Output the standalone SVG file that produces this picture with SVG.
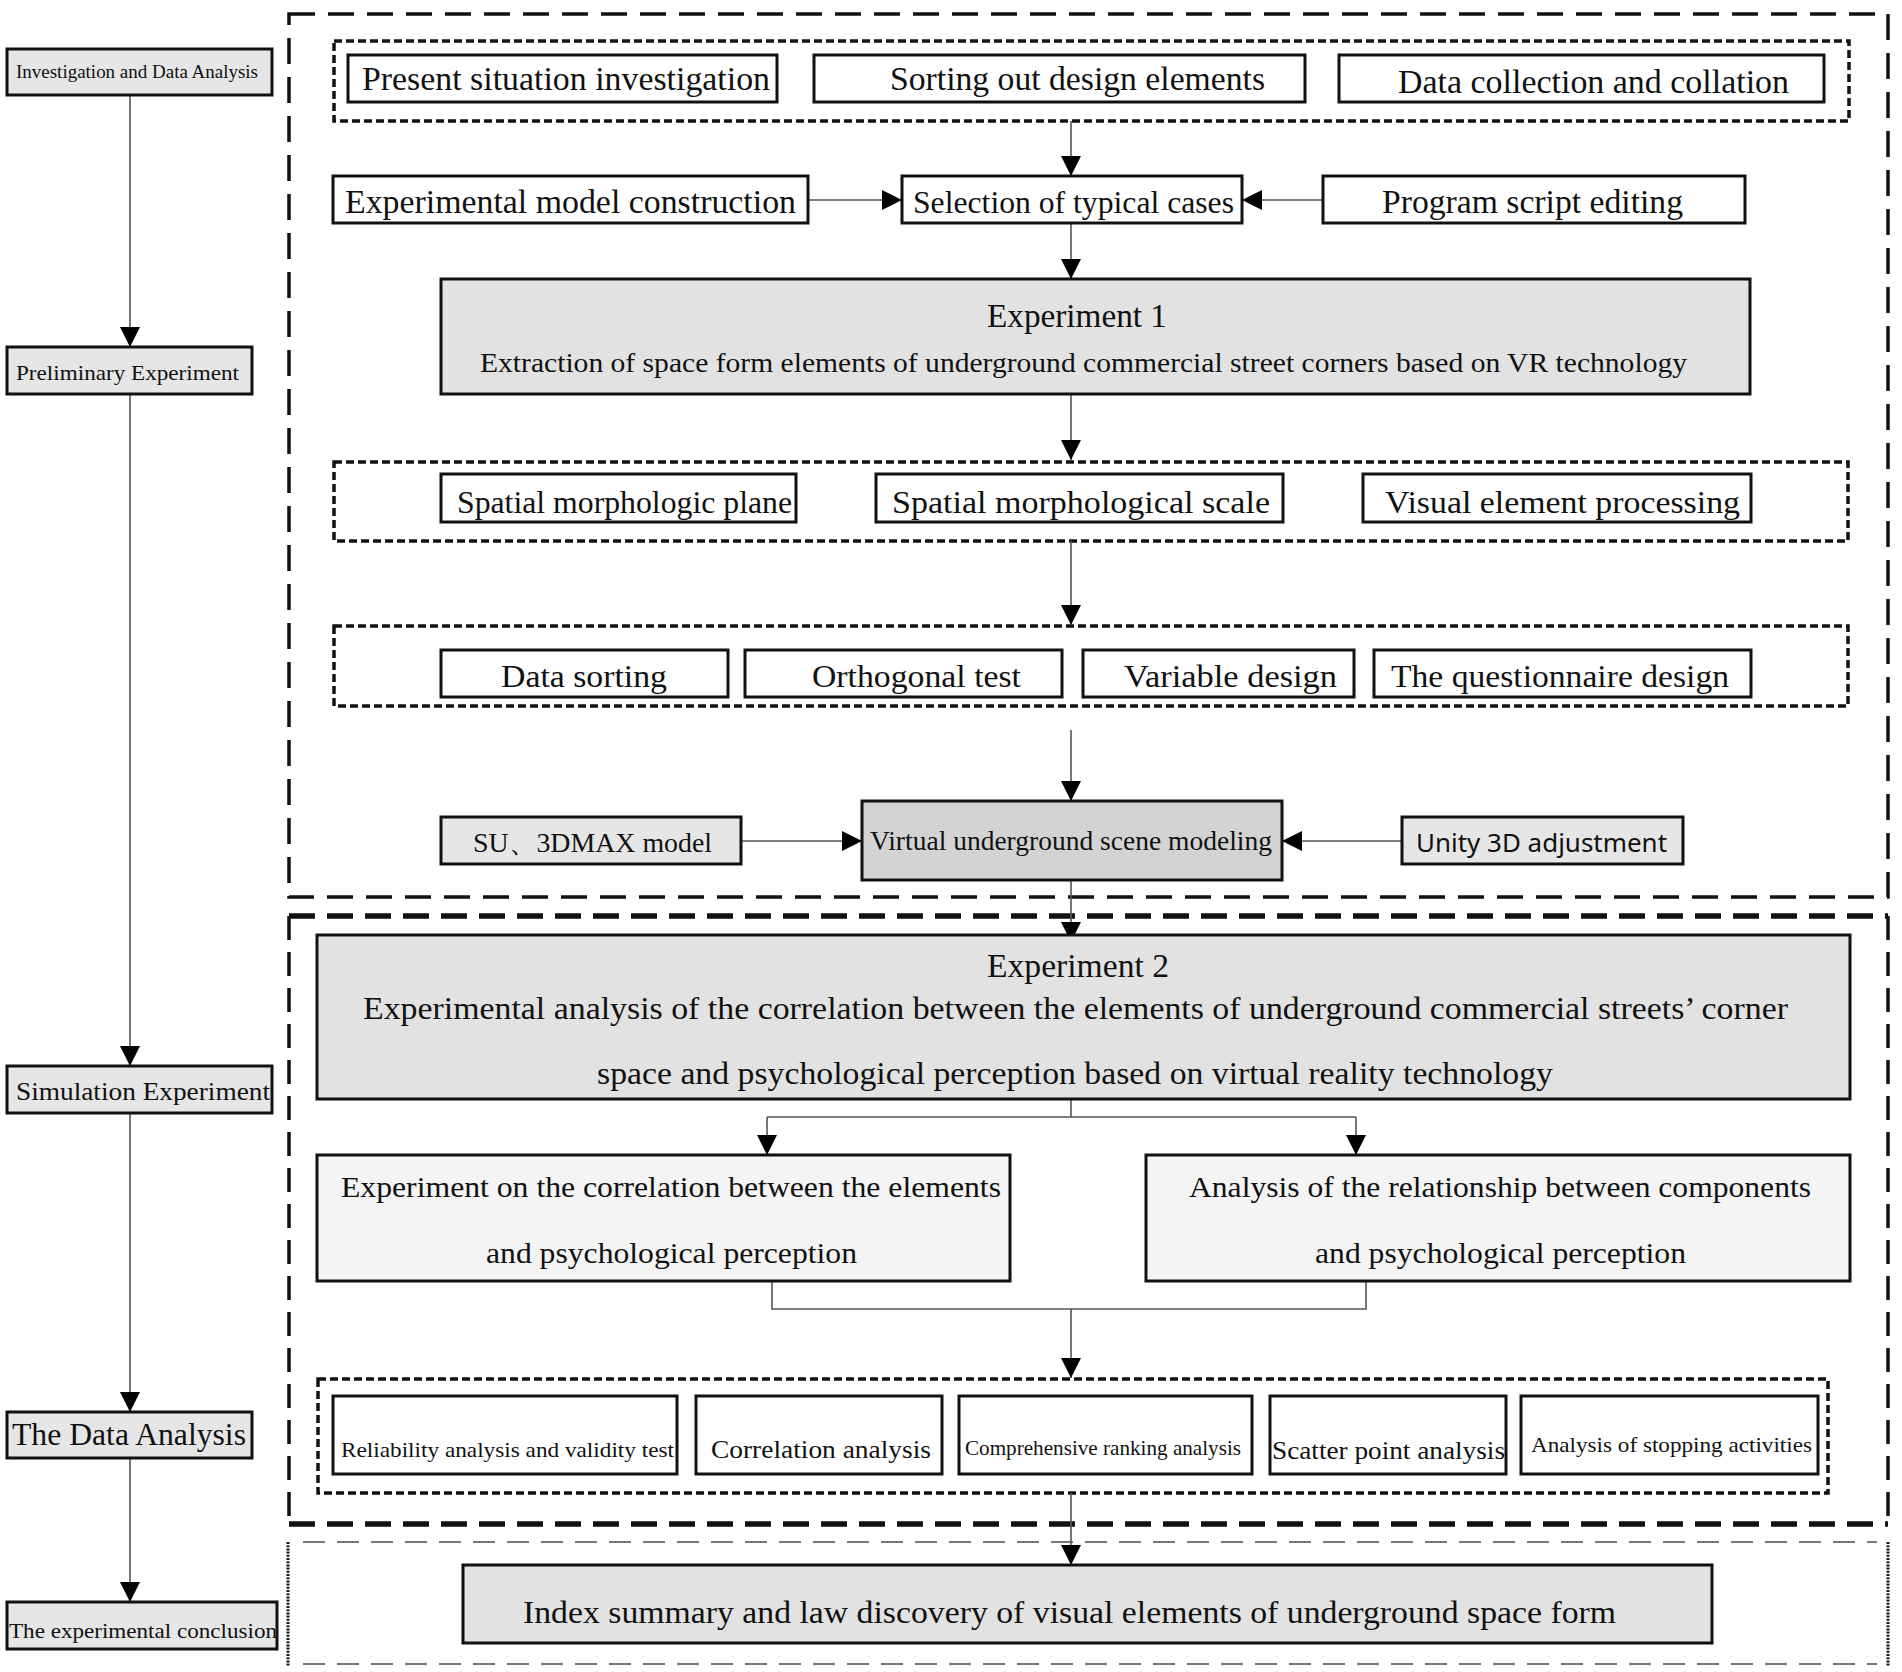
<svg xmlns="http://www.w3.org/2000/svg" width="1902" height="1672" viewBox="0 0 1902 1672">
<defs>
<style>
.box{fill:#fff;stroke:#111;stroke-width:3}
.g{fill:#e2e2e2}
.g2{fill:#d3d3d3}
.g3{fill:#f4f4f4}
.g4{fill:#e6e6e6}
.t{font-family:"Liberation Serif","Times New Roman",serif;fill:#111}
.s{font-family:"Noto Sans","Liberation Sans",sans-serif;fill:#111}
.conn{stroke:#555;stroke-width:1.6;fill:none}
.dot{fill:none;stroke:#111;stroke-width:3.5;stroke-dasharray:8 4}
</style>
<marker id="ah" markerUnits="userSpaceOnUse" markerWidth="20" markerHeight="20" refX="20" refY="10" orient="auto">
<path d="M0,0 L20,10 L0,20 z" fill="#000"/>
</marker>
</defs>
<rect width="1902" height="1672" fill="#fff"/>

<g id="frames">
<rect x="289" y="14" width="1599" height="883" fill="none" stroke="#111" stroke-width="3.5" stroke-dasharray="26 13"/>
<line x1="289" y1="916" x2="1888" y2="916" stroke="#111" stroke-width="5.5" stroke-dasharray="26 12"/>
<line x1="289" y1="1524" x2="1888" y2="1524" stroke="#111" stroke-width="5.5" stroke-dasharray="26 12"/>
<line x1="289" y1="916" x2="289" y2="1524" stroke="#111" stroke-width="3.5" stroke-dasharray="24 12"/>
<line x1="1888" y1="916" x2="1888" y2="1524" stroke="#111" stroke-width="3.5" stroke-dasharray="24 12"/>
<line x1="303" y1="1542" x2="1877" y2="1542" stroke="#777" stroke-width="2" stroke-dasharray="22 12"/>
<line x1="303" y1="1664" x2="1877" y2="1664" stroke="#777" stroke-width="2" stroke-dasharray="22 12"/>
<line x1="288" y1="1542" x2="288" y2="1666" stroke="#111" stroke-width="3" stroke-dasharray="2 1.2"/>
<line x1="1888" y1="1542" x2="1888" y2="1666" stroke="#111" stroke-width="3" stroke-dasharray="2 1.2"/>
<rect class="dot" x="334" y="41" width="1515" height="80"/>
<rect class="dot" x="334" y="462" width="1514" height="79"/>
<rect class="dot" x="334" y="626" width="1514" height="80"/>
<rect class="dot" x="318" y="1379" width="1510" height="114"/>
</g>

<g id="connectors">
<line class="conn" x1="130" y1="95" x2="130" y2="347" marker-end="url(#ah)"/>
<line class="conn" x1="130" y1="394" x2="130" y2="1066" marker-end="url(#ah)"/>
<line class="conn" x1="130" y1="1113" x2="130" y2="1412" marker-end="url(#ah)"/>
<line class="conn" x1="130" y1="1458" x2="130" y2="1602" marker-end="url(#ah)"/>
<line class="conn" x1="1071" y1="121" x2="1071" y2="176" marker-end="url(#ah)"/>
<line class="conn" x1="808" y1="200" x2="902" y2="200" marker-end="url(#ah)"/>
<line class="conn" x1="1323" y1="200" x2="1242" y2="200" marker-end="url(#ah)"/>
<line class="conn" x1="1071" y1="223" x2="1071" y2="279" marker-end="url(#ah)"/>
<line class="conn" x1="1071" y1="394" x2="1071" y2="460" marker-end="url(#ah)"/>
<line class="conn" x1="1071" y1="541" x2="1071" y2="625" marker-end="url(#ah)"/>
<line class="conn" x1="1071" y1="730" x2="1071" y2="801" marker-end="url(#ah)"/>
<line class="conn" x1="741" y1="841" x2="862" y2="841" marker-end="url(#ah)"/>
<line class="conn" x1="1401" y1="841" x2="1282" y2="841" marker-end="url(#ah)"/>
<line class="conn" x1="1071" y1="880" x2="1071" y2="942" marker-end="url(#ah)"/>
<polyline class="conn" points="1071,1099 1071,1117"/>
<polyline class="conn" points="767,1117 1356,1117"/>
<line class="conn" x1="767" y1="1117" x2="767" y2="1155" marker-end="url(#ah)"/>
<line class="conn" x1="1356" y1="1117" x2="1356" y2="1155" marker-end="url(#ah)"/>
<polyline class="conn" points="772,1281 772,1309 1366,1309 1366,1281"/>
<line class="conn" x1="1071" y1="1309" x2="1071" y2="1378" marker-end="url(#ah)"/>
<line class="conn" x1="1071" y1="1493" x2="1071" y2="1565" marker-end="url(#ah)"/>
</g>

<g id="n-investigation"><rect class="box g4" x="7" y="49" width="265" height="46"/><text class="t" x="16" y="78" font-size="19" textLength="242" lengthAdjust="spacingAndGlyphs">Investigation and Data Analysis</text></g>
<g id="n-preliminary"><rect class="box g4" x="7" y="347" width="245" height="47"/><text class="t" x="16" y="380" font-size="22" textLength="223" lengthAdjust="spacingAndGlyphs">Preliminary Experiment</text></g>
<g id="n-simulation"><rect class="box g4" x="7" y="1066" width="265" height="47"/><text class="t" x="16" y="1100" font-size="25" textLength="254" lengthAdjust="spacingAndGlyphs">Simulation Experiment</text></g>
<g id="n-dataanalysis"><rect class="box g4" x="7" y="1412" width="245" height="46"/><text class="t" x="12" y="1445" font-size="31" textLength="234" lengthAdjust="spacingAndGlyphs">The Data Analysis</text></g>
<g id="n-conclusion"><rect class="box g4" x="7" y="1602" width="270" height="47"/><text class="t" x="9" y="1638" font-size="22" textLength="268" lengthAdjust="spacingAndGlyphs">The experimental conclusion</text></g>

<g id="n-present"><rect class="box" x="348" y="55" width="429" height="47"/><text class="t" x="362" y="90" font-size="33" textLength="408" lengthAdjust="spacingAndGlyphs">Present situation investigation</text></g>
<g id="n-sorting"><rect class="box" x="814" y="55" width="491" height="47"/><text class="t" x="890" y="90" font-size="33" textLength="375" lengthAdjust="spacingAndGlyphs">Sorting out design elements</text></g>
<g id="n-datacollection"><rect class="box" x="1339" y="55" width="485" height="47"/><text class="t" x="1398" y="93" font-size="33" textLength="391" lengthAdjust="spacingAndGlyphs">Data collection and collation</text></g>

<g id="n-expmodel"><rect class="box" x="333" y="176" width="475" height="47" stroke-width="2.5"/><text class="t" x="345" y="213" font-size="33" textLength="451" lengthAdjust="spacingAndGlyphs">Experimental model construction</text></g>
<g id="n-selection"><rect class="box" x="902" y="176" width="340" height="47"/><text class="t" x="913" y="213" font-size="31" textLength="321" lengthAdjust="spacingAndGlyphs">Selection of typical cases</text></g>
<g id="n-program"><rect class="box" x="1323" y="176" width="422" height="47"/><text class="t" x="1382" y="213" font-size="33" textLength="301" lengthAdjust="spacingAndGlyphs">Program script editing</text></g>

<g id="n-exp1"><rect class="box g" x="441" y="279" width="1309" height="115"/><text class="t" x="987" y="327" font-size="33" textLength="180" lengthAdjust="spacingAndGlyphs">Experiment 1</text><text class="t" x="480" y="372" font-size="28" textLength="1207" lengthAdjust="spacingAndGlyphs">Extraction of space form elements of underground commercial street corners based on VR technology</text></g>

<g id="n-plane"><rect class="box" x="441" y="474" width="355" height="48"/><text class="t" x="457" y="513" font-size="32" textLength="335" lengthAdjust="spacingAndGlyphs">Spatial morphologic plane</text></g>
<g id="n-scale"><rect class="box" x="876" y="474" width="407" height="48"/><text class="t" x="892" y="513" font-size="32" textLength="378" lengthAdjust="spacingAndGlyphs">Spatial morphological scale</text></g>
<g id="n-visual"><rect class="box" x="1363" y="474" width="388" height="48"/><text class="t" x="1385" y="513" font-size="32" textLength="355" lengthAdjust="spacingAndGlyphs">Visual element processing</text></g>

<g id="n-datasorting"><rect class="box" x="441" y="650" width="287" height="47"/><text class="t" x="501" y="687" font-size="32" textLength="166" lengthAdjust="spacingAndGlyphs">Data sorting</text></g>
<g id="n-orthogonal"><rect class="box" x="745" y="650" width="317" height="47"/><text class="t" x="812" y="687" font-size="32" textLength="209" lengthAdjust="spacingAndGlyphs">Orthogonal test</text></g>
<g id="n-variable"><rect class="box" x="1083" y="650" width="271" height="47"/><text class="t" x="1124" y="687" font-size="32" textLength="213" lengthAdjust="spacingAndGlyphs">Variable design</text></g>
<g id="n-questionnaire"><rect class="box" x="1374" y="650" width="377" height="47"/><text class="t" x="1391" y="687" font-size="32" textLength="338" lengthAdjust="spacingAndGlyphs">The questionnaire design</text></g>

<g id="n-su"><rect class="box g4" x="441" y="817" width="300" height="47"/><text class="t" x="473" y="852" font-size="28" textLength="239" lengthAdjust="spacingAndGlyphs">SU、3DMAX model</text></g>
<g id="n-virtual"><rect class="box g2" x="862" y="801" width="420" height="79"/><text class="t" x="870" y="850" font-size="27" textLength="402" lengthAdjust="spacingAndGlyphs">Virtual underground scene modeling</text></g>
<g id="n-unity"><rect class="box g4" x="1402" y="817" width="281" height="47"/><text class="s" x="1416" y="852" font-size="26" textLength="251" lengthAdjust="spacingAndGlyphs">Unity 3D  adjustment</text></g>

<g id="n-exp2"><rect class="box g" x="317" y="935" width="1533" height="164"/><text class="t" x="987" y="977" font-size="33" textLength="182" lengthAdjust="spacingAndGlyphs">Experiment 2</text><text class="t" x="363" y="1019" font-size="31" textLength="1425" lengthAdjust="spacingAndGlyphs">Experimental analysis of the correlation between the elements of underground commercial streets’ corner</text><text class="t" x="597" y="1084" font-size="31" textLength="956" lengthAdjust="spacingAndGlyphs">space and psychological perception based on virtual reality technology</text></g>

<g id="n-expcorr"><rect class="box g3" x="317" y="1155" width="693" height="126"/><text class="t" x="341" y="1197" font-size="30" textLength="660" lengthAdjust="spacingAndGlyphs">Experiment on the correlation between the elements</text><text class="t" x="486" y="1263" font-size="30" textLength="371" lengthAdjust="spacingAndGlyphs">and psychological perception</text></g>
<g id="n-relationship"><rect class="box g3" x="1146" y="1155" width="704" height="126"/><text class="t" x="1189" y="1197" font-size="30" textLength="622" lengthAdjust="spacingAndGlyphs">Analysis of the relationship between components</text><text class="t" x="1315" y="1263" font-size="30" textLength="371" lengthAdjust="spacingAndGlyphs">and psychological perception</text></g>

<g id="n-reliability"><rect class="box" x="333" y="1396" width="344" height="78"/><text class="t" x="341" y="1457" font-size="21" textLength="333" lengthAdjust="spacingAndGlyphs">Reliability analysis and validity test</text></g>
<g id="n-correlation"><rect class="box" x="696" y="1396" width="246" height="78"/><text class="t" x="711" y="1458" font-size="26" textLength="220" lengthAdjust="spacingAndGlyphs">Correlation analysis</text></g>
<g id="n-ranking"><rect class="box" x="959" y="1396" width="293" height="78"/><text class="t" x="965" y="1455" font-size="21" textLength="276" lengthAdjust="spacingAndGlyphs">Comprehensive ranking analysis</text></g>
<g id="n-scatter"><rect class="box" x="1270" y="1396" width="236" height="78"/><text class="t" x="1272" y="1459" font-size="26" textLength="233" lengthAdjust="spacingAndGlyphs">Scatter point analysis</text></g>
<g id="n-stopping"><rect class="box" x="1521" y="1396" width="297" height="78"/><text class="t" x="1531" y="1452" font-size="22" textLength="281" lengthAdjust="spacingAndGlyphs">Analysis of stopping activities</text></g>

<g id="n-index"><rect class="box g" x="463" y="1565" width="1249" height="78"/><text class="t" x="523" y="1623" font-size="32" textLength="1093" lengthAdjust="spacingAndGlyphs">Index summary and law discovery of visual elements of underground space form</text></g>
</svg>
